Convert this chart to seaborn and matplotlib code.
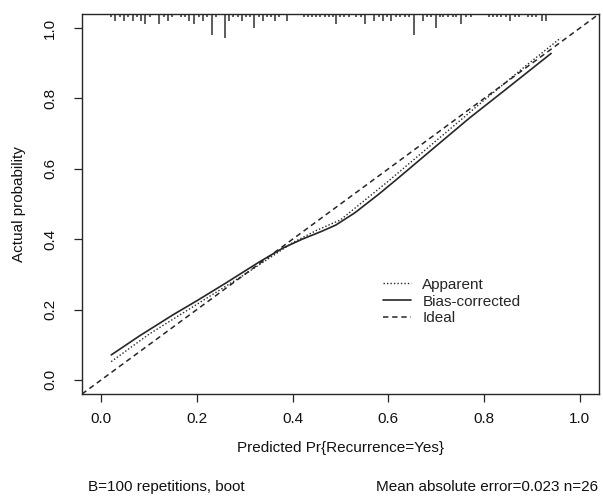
import numpy as np
import pandas as pd
import matplotlib
matplotlib.use("Agg")
import matplotlib.pyplot as plt
import seaborn as sns

# ---- data ----
apparent_x = [0.021, 0.10, 0.20, 0.30, 0.35, 0.40, 0.45, 0.50, 0.55, 0.60, 0.70, 0.80, 0.88, 0.96]
apparent_y = [0.052, 0.130, 0.215, 0.300, 0.345, 0.390, 0.425, 0.455, 0.510, 0.565, 0.680, 0.795, 0.885, 0.972]

bias_x = [0.021, 0.08, 0.15, 0.20, 0.26, 0.33, 0.38, 0.42, 0.46, 0.49, 0.53, 0.58, 0.62, 0.70, 0.77, 0.84, 0.94]
bias_y = [0.071, 0.125, 0.185, 0.225, 0.275, 0.335, 0.375, 0.400, 0.422, 0.440, 0.475, 0.528, 0.573, 0.665, 0.745, 0.820, 0.928]

ideal_x = [-0.04, 1.04]
ideal_y = [-0.04, 1.04]

rug_x = [0.020, 0.029, 0.039, 0.048, 0.057, 0.066, 0.074, 0.083, 0.092, 0.102,
         0.121, 0.132, 0.139, 0.148, 0.167, 0.176, 0.184, 0.195, 0.204, 0.213,
         0.222, 0.232, 0.240, 0.259, 0.268, 0.276, 0.285, 0.294, 0.303, 0.311,
         0.320, 0.329, 0.338, 0.346, 0.355, 0.364, 0.372, 0.388, 0.423, 0.432,
         0.441, 0.449, 0.457, 0.467, 0.476, 0.484, 0.491, 0.498, 0.508, 0.517,
         0.533, 0.543, 0.552, 0.571, 0.580, 0.589, 0.597, 0.606, 0.616, 0.625,
         0.634, 0.643, 0.653, 0.672, 0.681, 0.690, 0.699, 0.707, 0.715, 0.725,
         0.734, 0.742, 0.752, 0.763, 0.773, 0.810, 0.819, 0.827, 0.836, 0.845,
         0.855, 0.864, 0.873, 0.892, 0.901, 0.909, 0.920, 0.929]
rug_n = [1, 2, 1, 2, 1, 2, 1, 2, 3, 1,
         3, 1, 2, 1, 1, 1, 2, 3, 1, 2,
         1, 6, 1, 7, 2, 1, 1, 2, 1, 1,
         4, 1, 2, 1, 1, 2, 1, 2, 1, 1,
         1, 1, 1, 1, 1, 1, 3, 1, 1, 1,
         1, 1, 3, 2, 1, 2, 1, 2, 1, 1,
         1, 1, 6, 2, 1, 1, 4, 1, 1, 1,
         1, 1, 3, 1, 1, 1, 1, 1, 1, 1,
         2, 1, 1, 1, 1, 1, 2, 2]

x_ticks = [0.0, 0.2, 0.4, 0.6, 0.8, 1.0]
y_ticks = [0.0, 0.2, 0.4, 0.6, 0.8, 1.0]
tick_labels = ["0.0", "0.2", "0.4", "0.6", "0.8", "1.0"]

legend_labels = ["Apparent", "Bias-corrected", "Ideal"]
x_label = "Predicted Pr{Recurrence=Yes}"
y_label = "Actual probability"
note_left = "B=100 repetitions, boot"
note_right = "Mean absolute error=0.023 n=26"

# ---- style ----
sns.set_style("ticks")
plt.rcParams["font.family"] = ["Liberation Sans", "DejaVu Sans"]
FS = 11
ink = "#262626"

fig = plt.figure(figsize=(6.03, 4.97), dpi=100)
ax = fig.add_axes([82 / 603, 1 - 394 / 497, (599 - 82) / 603, (394 - 14) / 497])

app = pd.DataFrame({"x": apparent_x, "y": apparent_y})
bia = pd.DataFrame({"x": bias_x, "y": bias_y})
ide = pd.DataFrame({"x": ideal_x, "y": ideal_y})

sns.lineplot(data=app, x="x", y="y", ax=ax, color=ink, lw=1.0, linestyle=(0, (1, 1.5)),
             label=legend_labels[0], sort=False, estimator=None)
sns.lineplot(data=bia, x="x", y="y", ax=ax, color=ink, lw=1.2, linestyle="-",
             label=legend_labels[1], sort=False, estimator=None)
sns.lineplot(data=ide, x="x", y="y", ax=ax, color=ink, lw=1.1, linestyle=(0, (3.5, 2.5)),
             label=legend_labels[2], sort=False, estimator=None)

# rug along the top (tick length proportional to frequency)
unit = 0.009
ax.vlines(rug_x, [1 - n * unit for n in rug_n], 1.0, transform=ax.get_xaxis_transform(),
          color="#303030", lw=1.1, clip_on=False)

ax.set_xlim(-0.04, 1.04)
ax.set_ylim(-0.04, 1.04)
ax.set_xticks(x_ticks)
ax.set_xticklabels(tick_labels, fontsize=FS)
ax.set_yticks(y_ticks)
ax.set_yticklabels(tick_labels, fontsize=FS, rotation=90, va="center")
ax.tick_params(axis="both", direction="out", length=5.5, width=0.9, color=ink, labelcolor="#111111")
ax.tick_params(axis="x", pad=7.5)
ax.tick_params(axis="y", pad=12.5)
for s in ax.spines.values():
    s.set_visible(True)
    s.set_color(ink)
    s.set_linewidth(1.0)

ax.set_xlabel(x_label, fontsize=FS, color="#111111", labelpad=11)
ax.set_ylabel(y_label, fontsize=FS, color="#111111", labelpad=12)

leg = ax.legend(loc="upper left", bbox_to_anchor=(0.571, 0.322), frameon=False, fontsize=FS,
                handlelength=1.8, handletextpad=0.75, labelspacing=0.18, borderaxespad=0)

fig.text(88 / 603, 1 - 487 / 497, note_left, fontsize=FS, color="#111111", ha="left", va="center")
fig.text(598 / 603, 1 - 487 / 497, note_right, fontsize=FS, color="#111111", ha="right", va="center")

fig.savefig("out.png", dpi=100)
